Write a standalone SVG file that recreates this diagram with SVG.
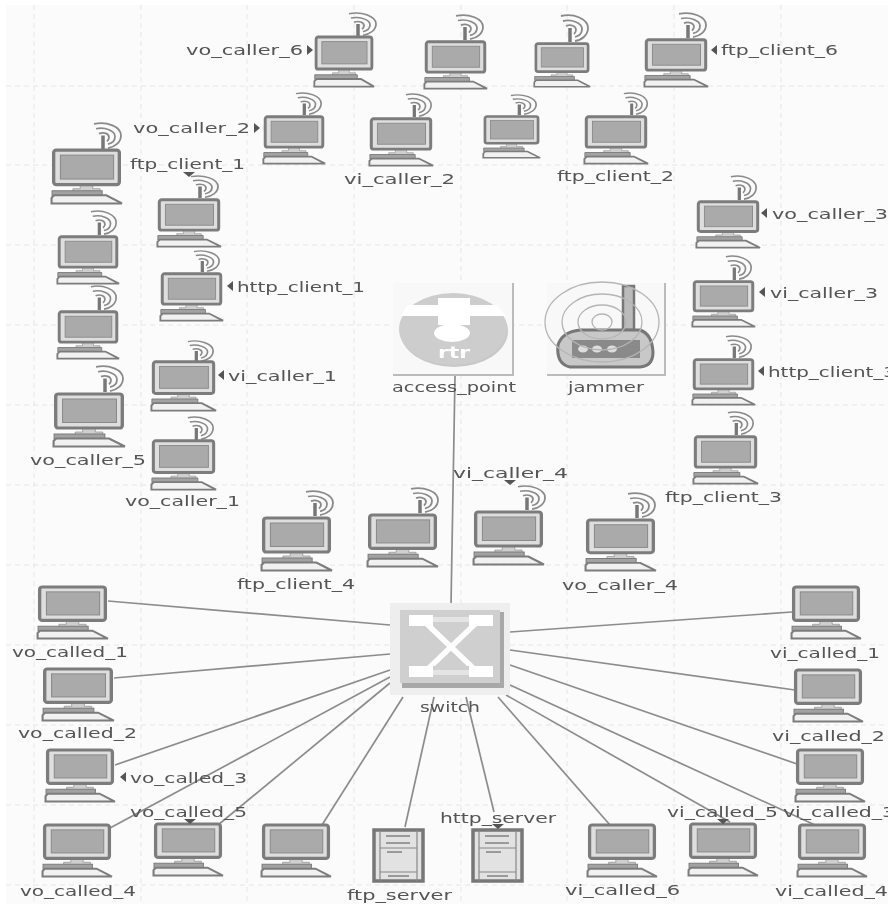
<svg xmlns="http://www.w3.org/2000/svg" width="888" height="904" viewBox="0 0 888 904">
<style>
.bg{fill:#fbfbfb}
.grid{stroke:#e6e6e6;stroke-width:1;stroke-dasharray:5 4;fill:none}
.link{stroke:#8c8c8c;stroke-width:1.700;fill:none}
.t{font-family:"DejaVu Sans",sans-serif;font-size:14px;fill:#555}
.a{fill:#555}
</style>
<defs>
<filter id="soft" x="0" y="0" width="100%" height="100%"><feGaussianBlur stdDeviation="0.4"/></filter>
<symbol id="pc" viewBox="0 0 70 56" preserveAspectRatio="none">
<path d="M29 36H41V40H48V43H22V40H29Z" fill="#cfcfcf" stroke="#999" stroke-width="0.800"/>
<rect x="3.500" y="2" width="63" height="34" rx="2.500" fill="#dedede" stroke="#7c7c7c" stroke-width="3.200"/>
<rect x="10" y="7" width="51" height="23.500" fill="#aaa" stroke="#8a8a8a"/>
<path d="M2 42H50V47H2Z" fill="#a2a2a2" stroke="#7c7c7c"/>
<path d="M1.500 54.500V49L4 46.500H54L69 54.500Z" fill="#f1f1f1" stroke="#7c7c7c" stroke-width="2"/>
</symbol>
<symbol id="wl" viewBox="0 0 30 28" preserveAspectRatio="none">
<path d="M10 14V28" stroke="#777" stroke-width="3.500" fill="none"/>
<path d="M1 2C14 -1 28 5 28 14C28 21 22 26 15 27M3 7C12 5 22 9 22 15C22 19 19 22 15 23M6 12C11 10 16 12 16 16C16 18 15 19 14 20" stroke="#8a8a8a" stroke-width="1.800" fill="none"/>
</symbol>
<symbol id="srv" viewBox="0 0 53 55" preserveAspectRatio="none">
<rect x="2" y="2" width="49" height="51" fill="#e2e2e2" stroke="#777" stroke-width="3.500"/>
<path d="M8 2V53M45 2V53M8 20H45M8 44H45" stroke="#888" stroke-width="1.200" fill="none"/>
<path d="M14 8H38M14 15H38M15 24H30M16 48H37" stroke="#999" stroke-width="2" fill="none"/>
</symbol>
</defs>
<g filter="url(#soft)">
<rect class="bg" x="0" y="0" width="888" height="904"/>
<rect x="0" y="0" width="888" height="5" fill="#fff"/>
<rect x="0" y="0" width="6" height="904" fill="#fff"/>
<g id="grid">
<path class="grid" d="M34 5V904M141 5V904M247 5V904M354 5V904M461 5V904M567 5V904M674 5V904M781 5V904"/>
<path class="grid" d="M6 86H888M6 165H888M6 245H888M6 325H888M6 405H888M6 485H888M6 565H888M6 645H888M6 725H888M6 805H888M6 885H888"/>
</g>
<g id="connectors">
<path class="link" d="M455 376L451 605"/>
<path class="link" d="M108 601L390 625"/>
<path class="link" d="M114 678L390 654"/>
<path class="link" d="M115 765L390 670"/>
<path class="link" d="M110 828L390 677"/>
<path class="link" d="M218 825L390 683"/>
<path class="link" d="M322 825L403 697"/>
<path class="link" d="M405 827L434 697"/>
<path class="link" d="M494 812L466 697"/>
<path class="link" d="M610 825L498 697"/>
<path class="link" d="M730 822L506 695"/>
<path class="link" d="M815 825L510 685"/>
<path class="link" d="M800 765L510 665"/>
<path class="link" d="M795 690L510 650"/>
<path class="link" d="M792 612L510 632"/>
</g>
<g id="access_point">
<rect x="393" y="283" width="120" height="92" fill="#f8f8f8"/>
<path d="M513 283V375H393" fill="none" stroke="#bbb" stroke-width="2"/>
<ellipse cx="454" cy="331" rx="54" ry="36" fill="#a9a9a9" opacity="0.600"/>
<ellipse cx="453" cy="329" rx="54" ry="36" fill="#cdcdcd"/>
<path d="M408 305H497L506 316H400Z" fill="#fff"/>
<rect x="438" y="298" width="32" height="27" fill="#fff"/>
<ellipse cx="452" cy="333" rx="18" ry="9" fill="#fff"/>
<text x="438" y="358" textLength="32" lengthAdjust="spacingAndGlyphs" style="font-family:'DejaVu Sans',sans-serif;font-size:15px;font-weight:bold;fill:#fff">rtr</text>
<text class="t" x="392" y="392" textLength="124" lengthAdjust="spacingAndGlyphs">access_point</text>
</g>
<g id="jammer">
<rect x="547" y="283" width="118" height="92" fill="#f8f8f8"/>
<path d="M665 283V375H547" fill="none" stroke="#bbb" stroke-width="2"/>
<path d="M623 286H634V330H623Z" fill="#bbb" stroke="#777" stroke-width="2.500"/>
<path d="M558 345Q562 332 580 330H640Q652 334 653 352Q653 366 640 367H570Q556 364 558 345Z" fill="#c8c8c8" stroke="#777" stroke-width="3"/>
<rect x="572" y="340" width="68" height="18" fill="#8a8a8a"/>
<g fill="#ddd"><ellipse cx="583" cy="349" rx="5" ry="3.500"/><ellipse cx="597" cy="349" rx="5" ry="3.500"/><ellipse cx="612" cy="349" rx="5" ry="3.500"/></g>
<g fill="none" stroke="#b5b5b5" stroke-width="1.300"><ellipse cx="602" cy="322" rx="10" ry="8"/><ellipse cx="602" cy="322" rx="24" ry="17"/><ellipse cx="602" cy="322" rx="40" ry="28"/><ellipse cx="602" cy="322" rx="57" ry="40"/></g>
<text class="t" x="568" y="392" textLength="76" lengthAdjust="spacingAndGlyphs">jammer</text>
</g>
<g id="switch">
<rect x="390" y="603" width="120" height="92" fill="#eee"/>
<path d="M402 683H500V612H504V688H402Z" fill="#a8a8a8"/>
<rect x="400" y="610" width="100" height="73" fill="#cfcfcf"/>
<g fill="#fff">
<rect x="409" y="615" width="24" height="11"/><rect x="469" y="615" width="24" height="11"/>
<rect x="409" y="666" width="24" height="11"/><rect x="469" y="666" width="24" height="11"/>
<path d="M433 617H469V622H433ZM433 670H469V675H433Z" fill="#e4e4e4"/>
<path d="M425 626H433L475 666H467ZM469 626H477L435 666H427Z"/>
</g>
<text class="t" x="420" y="712" textLength="60" lengthAdjust="spacingAndGlyphs">switch</text>
</g>

<g id="vo_caller_6"><use href="#wl" x="348" y="12" width="30" height="24"/><use href="#pc" x="313" y="35" width="62" height="53"/><text class="t" x="186" y="55" textLength="117" lengthAdjust="spacingAndGlyphs">vo_caller_6</text><polygon class="a" points="307,45 313,50 307,55"/></g>
<g id="wireless_top_2"><use href="#wl" x="455" y="14" width="30" height="26"/><use href="#pc" x="423" y="40" width="65" height="50"/></g>
<g id="wireless_top_3"><use href="#wl" x="560" y="14" width="30" height="28"/><use href="#pc" x="533" y="42" width="58" height="46"/></g>
<g id="ftp_client_6"><use href="#wl" x="678" y="12" width="30" height="26"/><use href="#pc" x="643" y="38" width="66" height="50"/><text class="t" x="721" y="55" textLength="117" lengthAdjust="spacingAndGlyphs">ftp_client_6</text><polygon class="a" points="717,45 711,50 717,55"/></g>
<g id="vo_caller_2"><use href="#wl" x="295" y="92" width="28" height="23"/><use href="#pc" x="262" y="115" width="64" height="50"/><text class="t" x="133" y="133" textLength="117" lengthAdjust="spacingAndGlyphs">vo_caller_2</text><polygon class="a" points="254,123 260,128 254,133"/></g>
<g id="vi_caller_2"><use href="#wl" x="405" y="93" width="28" height="24"/><use href="#pc" x="368" y="117" width="66" height="50"/><text class="t" x="344" y="184" textLength="111" lengthAdjust="spacingAndGlyphs">vi_caller_2</text></g>
<g id="wireless_top_6"><use href="#wl" x="510" y="94" width="28" height="21"/><use href="#pc" x="482" y="115" width="59" height="44"/></g>
<g id="ftp_client_2"><use href="#wl" x="623" y="92" width="26" height="23"/><use href="#pc" x="583" y="115" width="66" height="50"/><text class="t" x="557" y="181" textLength="117" lengthAdjust="spacingAndGlyphs">ftp_client_2</text></g>

<g id="wireless_left_1"><use href="#wl" x="93" y="122" width="30" height="27"/><use href="#pc" x="50" y="148" width="73" height="57"/></g>
<g id="ftp_client_1"><use href="#wl" x="190" y="175" width="30" height="23"/><use href="#pc" x="156" y="198" width="66" height="50"/><text class="t" x="130" y="169" textLength="115" lengthAdjust="spacingAndGlyphs">ftp_client_1</text><polygon class="a" points="183,172 195,172 189,177"/></g>
<g id="wireless_left_2"><use href="#wl" x="90" y="210" width="28" height="25"/><use href="#pc" x="56" y="235" width="64" height="50"/></g>
<g id="http_client_1"><use href="#wl" x="193" y="250" width="28" height="22"/><use href="#pc" x="159" y="272" width="65" height="50"/><text class="t" x="237" y="292" textLength="128" lengthAdjust="spacingAndGlyphs">http_client_1</text><polygon class="a" points="233,281 227,286 233,291"/></g>
<g id="wireless_left_3"><use href="#wl" x="90" y="285" width="28" height="25"/><use href="#pc" x="56" y="310" width="64" height="50"/></g>
<g id="vi_caller_1"><use href="#wl" x="187" y="340" width="28" height="22"/><use href="#pc" x="150" y="360" width="67" height="52"/><text class="t" x="228" y="381" textLength="109" lengthAdjust="spacingAndGlyphs">vi_caller_1</text><polygon class="a" points="224,370 218,375 224,380"/></g>
<g id="vo_caller_5"><use href="#wl" x="95" y="365" width="30" height="27"/><use href="#pc" x="52" y="392" width="74" height="56"/><text class="t" x="30" y="465" textLength="116" lengthAdjust="spacingAndGlyphs">vo_caller_5</text></g>
<g id="vo_caller_1"><use href="#wl" x="187" y="416" width="28" height="24"/><use href="#pc" x="150" y="439" width="67" height="52"/><text class="t" x="125" y="506" textLength="115" lengthAdjust="spacingAndGlyphs">vo_caller_1</text></g>

<g id="vo_caller_3"><use href="#wl" x="730" y="175" width="28" height="25"/><use href="#pc" x="695" y="200" width="66" height="49"/><text class="t" x="772" y="219" textLength="116" lengthAdjust="spacingAndGlyphs">vo_caller_3</text><polygon class="a" points="767,208 761,213 767,218"/></g>
<g id="vi_caller_3"><use href="#wl" x="725" y="255" width="28" height="25"/><use href="#pc" x="691" y="280" width="65" height="48"/><text class="t" x="770" y="298" textLength="108" lengthAdjust="spacingAndGlyphs">vi_caller_3</text><polygon class="a" points="765,287 759,292 765,297"/></g>
<g id="http_client_3"><use href="#wl" x="725" y="335" width="28" height="23"/><use href="#pc" x="691" y="358" width="65" height="48"/><text class="t" x="768" y="377" textLength="128" lengthAdjust="spacingAndGlyphs">http_client_3</text><polygon class="a" points="764,366 758,371 764,376"/></g>
<g id="ftp_client_3"><use href="#wl" x="727" y="411" width="28" height="24"/><use href="#pc" x="692" y="435" width="67" height="50"/><text class="t" x="665" y="502" textLength="117" lengthAdjust="spacingAndGlyphs">ftp_client_3</text></g>

<g id="ftp_client_4"><use href="#wl" x="305" y="490" width="30" height="26"/><use href="#pc" x="260" y="516" width="73" height="56"/><text class="t" x="237" y="589" textLength="118" lengthAdjust="spacingAndGlyphs">ftp_client_4</text></g>
<g id="wireless_mid_2"><use href="#wl" x="410" y="487" width="30" height="26"/><use href="#pc" x="366" y="513" width="73" height="55"/></g>
<g id="vi_caller_4"><use href="#wl" x="517" y="485" width="30" height="25"/><use href="#pc" x="472" y="510" width="73" height="56"/><text class="t" x="453" y="478" textLength="115" lengthAdjust="spacingAndGlyphs">vi_caller_4</text><polygon class="a" points="504,480 516,480 510,485"/></g>
<g id="vo_caller_4"><use href="#wl" x="627" y="492" width="30" height="26"/><use href="#pc" x="584" y="518" width="73" height="54"/><text class="t" x="562" y="590" textLength="116" lengthAdjust="spacingAndGlyphs">vo_caller_4</text></g>

<g id="vo_called_1"><use href="#pc" x="36" y="585" width="73" height="55"/><text class="t" x="12" y="657" textLength="116" lengthAdjust="spacingAndGlyphs">vo_called_1</text></g>
<g id="vo_called_2"><use href="#pc" x="41" y="667" width="74" height="55"/><text class="t" x="18" y="738" textLength="119" lengthAdjust="spacingAndGlyphs">vo_called_2</text></g>
<g id="vo_called_3"><use href="#pc" x="44" y="748" width="72" height="55"/><text class="t" x="130" y="783" textLength="117" lengthAdjust="spacingAndGlyphs">vo_called_3</text><polygon class="a" points="126,772 120,777 126,782"/></g>
<g id="vo_called_4"><use href="#pc" x="41" y="823" width="72" height="55"/><text class="t" x="20" y="896" textLength="116" lengthAdjust="spacingAndGlyphs">vo_called_4</text></g>
<g id="vo_called_5"><use href="#pc" x="152" y="822" width="72" height="55"/><text class="t" x="130" y="817" textLength="117" lengthAdjust="spacingAndGlyphs">vo_called_5</text><polygon class="a" points="184,819 196,819 190,824"/></g>
<g id="wired_bottom_3"><use href="#pc" x="260" y="823" width="72" height="55"/></g>
<g id="ftp_server"><use href="#srv" x="372" y="828" width="53" height="55"/><text class="t" x="347" y="900" textLength="105" lengthAdjust="spacingAndGlyphs">ftp_server</text></g>
<g id="http_server"><use href="#srv" x="471" y="828" width="53" height="55"/><text class="t" x="440" y="823" textLength="116" lengthAdjust="spacingAndGlyphs">http_server</text><polygon class="a" points="492,824 504,824 498,829"/></g>
<g id="vi_called_6"><use href="#pc" x="586" y="823" width="72" height="55"/><text class="t" x="565" y="895" textLength="115" lengthAdjust="spacingAndGlyphs">vi_called_6</text></g>
<g id="vi_called_5"><use href="#pc" x="687" y="822" width="72" height="55"/><text class="t" x="667" y="817" textLength="111" lengthAdjust="spacingAndGlyphs">vi_called_5</text><polygon class="a" points="717,819 729,819 723,824"/></g>
<g id="vi_called_3"><use href="#pc" x="794" y="748" width="72" height="55"/><text class="t" x="783" y="817" textLength="112" lengthAdjust="spacingAndGlyphs">vi_called_3</text></g>
<g id="vi_called_4"><use href="#pc" x="796" y="823" width="72" height="55"/><text class="t" x="775" y="896" textLength="113" lengthAdjust="spacingAndGlyphs">vi_called_4</text></g>
<g id="vi_called_2"><use href="#pc" x="792" y="668" width="72" height="55"/><text class="t" x="772" y="741" textLength="113" lengthAdjust="spacingAndGlyphs">vi_called_2</text></g>
<g id="vi_called_1"><use href="#pc" x="790" y="585" width="72" height="55"/><text class="t" x="770" y="658" textLength="110" lengthAdjust="spacingAndGlyphs">vi_called_1</text></g>
</g>
</svg>
